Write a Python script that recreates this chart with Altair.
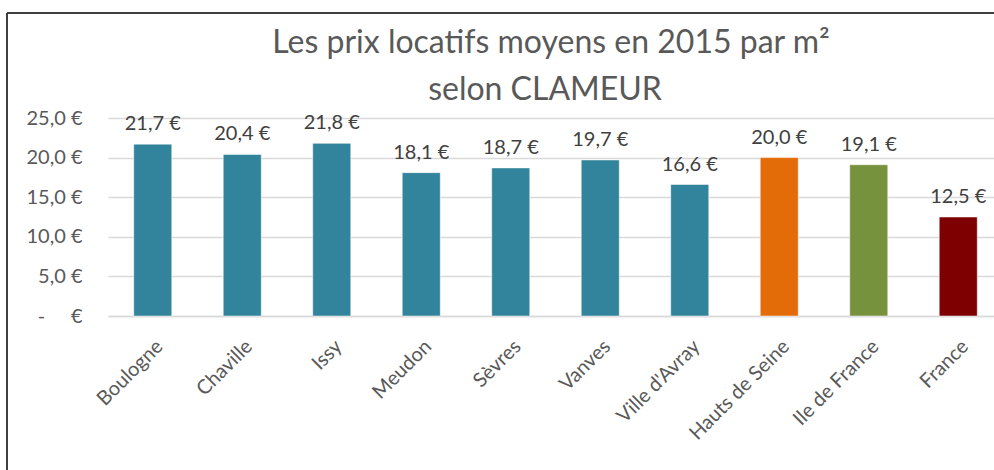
import altair as alt
import pandas as pd

categories = ["Boulogne", "Chaville", "Issy", "Meudon", "Sèvres", "Vanves",
              "Ville d'Avray", "Hauts de Seine", "Ile de France", "France"]
values = [21.7, 20.4, 21.8, 18.1, 18.7, 19.7, 16.6, 20.0, 19.1, 12.5]
colors = ["#31849B"] * 7 + ["#E36C09", "#76923C", "#7F0000"]
title_line1 = "Les prix locatifs moyens en 2015 par m²"
title_line2 = "selon CLAMEUR"

df = pd.DataFrame({
    "cat": categories,
    "val": values,
    "col": colors,
    "label": [f"{v:.1f}".replace(".", ",") + " €" for v in values],
})

FONT = "Lato"
GRAY = "#595959"
NB = "\u00a0"

x = alt.X("cat:N", sort=categories, title=None,
          scale=alt.Scale(range=[0, 895], paddingInner=0.575, paddingOuter=0.2875),
          axis=alt.Axis(labelAngle=-45, labelAlign="right", labelBaseline="top",
                        labelPadding=20, labelFontSize=20, labelColor=GRAY,
                        labelFont=FONT, ticks=False, domainColor="#D9D9D9",
                        domainWidth=1.5, labelOverlap=False))
y = alt.Y("val:Q", title=None,
          scale=alt.Scale(domain=[0, 25], nice=False),
          axis=alt.Axis(values=[0, 5, 10, 15, 20, 25], tickCount=6, domain=False, ticks=False,
                        labelPadding=26, labelFontSize=20, labelColor=GRAY,
                        labelFont=FONT, gridColor="#D9D9D9", gridWidth=1.5,
                        labelOverlap=False, labelFlush=False,
                        labelExpr="datum.value == 0 ? '-" + NB * 5 + "€' : replace(format(datum.value, '.1f'), '.', ',') + ' €'"))

bars = alt.Chart(df).mark_bar(strokeWidth=1, strokeOpacity=0.5, stroke="#ffffff").encode(
    x=x, y=y, color=alt.Color("col:N", scale=None))

text = alt.Chart(df).mark_text(baseline="bottom", dy=-10, fontSize=20,
                               color="#404040", font=FONT).encode(
    x=x, y=y, text="label:N")

t1 = alt.Chart(pd.DataFrame({"t": [title_line1]})).mark_text(
    fontSize=32, font=FONT, color=GRAY, baseline="alphabetic", align="center").encode(
    x=alt.value(443), y=alt.value(-65), text="t:N")
t2 = alt.Chart(pd.DataFrame({"t": [title_line2]})).mark_text(
    fontSize=32, font=FONT, color=GRAY, baseline="alphabetic", align="center").encode(
    x=alt.value(437), y=alt.value(-18), text="t:N")

border_left = alt.Chart(df).mark_rule(color="#404040", strokeWidth=2).encode(
    x=alt.value(-101), y=alt.value(-105), y2=alt.value(360))
border_top = alt.Chart(df).mark_rule(color="#404040", strokeWidth=2).encode(
    x=alt.value(-101), x2=alt.value(900), y=alt.value(-105))

chart = alt.layer(bars, text, t1, t2, border_left, border_top).properties(
    width=886, height=198,
    background="white",
    autosize=alt.AutoSizeParams(type="none"),
    padding={"left": 108, "top": 118, "right": 0, "bottom": 154},
).configure_view(stroke=None)

chart.save("out.html", embed_options={"renderer": "svg", "actions": False})
